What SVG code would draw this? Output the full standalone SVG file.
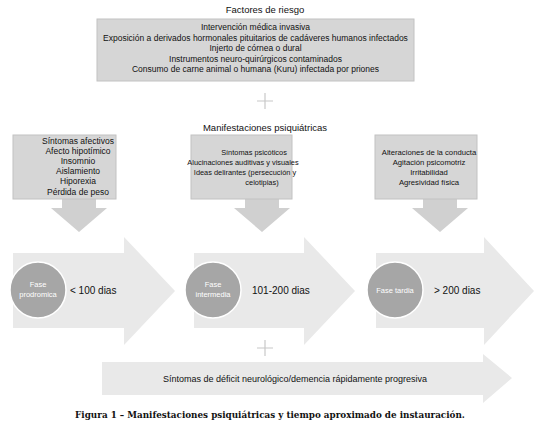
<svg xmlns="http://www.w3.org/2000/svg" width="539" height="425" viewBox="0 0 539 425">
<style>
.t{font-family:"Liberation Sans",Arial,sans-serif;font-size:8.5px;fill:#111;text-anchor:middle}
.m{font-size:7.4px}
.r{font-size:7.7px}
.box{fill:#d6d6d6;stroke:#c2c2c2;stroke-width:1}
.down{fill:#d0d0d0}
.big{fill:#e9e9e9}
.circ{fill:#a6a6a6;stroke:#fff;stroke-width:1.5}
.ct{font-family:"Liberation Sans",Arial,sans-serif;font-size:7.5px;fill:#fff;text-anchor:middle}
.lbl{font-family:"Liberation Sans",Arial,sans-serif;font-size:10px;fill:#111}
.plus{stroke:#c8c8c8;stroke-width:1.2;fill:none}
.cap{font-family:"DejaVu Serif","Liberation Serif",serif;font-size:8.8px;font-weight:bold;fill:#111;text-anchor:middle}
</style>
<rect width="539" height="425" fill="#fff"/>
<g id="connectors">
<path class="plus" d="M257 101H273M265 93V109"/>
<path class="plus" d="M257 348H273M265 340V356"/>
<polygon class="down" points="62,198 96,198 96,208 107,208 79,232 51,208 62,208"/>
<polygon class="down" points="245,198 279,198 279,208 290,208 262,232 234,208 245,208"/>
<polygon class="down" points="423,198 457,198 457,208 468,208 440,232 412,208 423,208"/>
</g>
<g id="title-riesgo"><text class="t" x="265" y="13" style="font-size:9.5px">Factores de riesgo</text></g>
<g id="factores">
<rect class="box" x="97" y="19" width="317" height="62"/>
<text class="t" x="255.5" y="30">Intervención médica invasiva</text>
<text class="t" x="255.5" y="40.5">Exposición a derivados hormonales pituitarios de cadáveres humanos infectados</text>
<text class="t" x="255.5" y="51">Injerto de córnea o dural</text>
<text class="t" x="255.5" y="61.5">Instrumentos neuro-quirúrgicos contaminados</text>
<text class="t" x="255.5" y="72">Consumo de carne animal o humana (Kuru) infectada por priones</text>
</g>
<g id="title-manif"><text class="t" x="265" y="131" style="font-size:9.5px">Manifestaciones psiquiátricas</text></g>
<g id="afectivos">
<rect class="box" x="13" y="135" width="103" height="64"/>
<text class="t" x="78" y="144">Síntomas afectivos</text>
<text class="t" x="78" y="154">Afecto hipotímico</text>
<text class="t" x="78" y="164">Insomnio</text>
<text class="t" x="78" y="174">Aislamiento</text>
<text class="t" x="78" y="184">Hiporexia</text>
<text class="t" x="78" y="194.5">Pérdida de peso</text>
</g>
<g id="psicoticos">
<rect class="box" x="191" y="135" width="101" height="64"/>
<text class="t m" x="254" y="155">Síntomas psicóticos</text>
<text class="t m" x="243" y="165">Alucinaciones auditivas y visuales</text>
<text class="t m" x="245" y="175">Ideas delirantes (persecución y</text>
<text class="t m" x="262" y="185">celotipias)</text>
</g>
<g id="conducta">
<rect class="box" x="375" y="135" width="102" height="64"/>
<text class="t r" x="429" y="155">Alteraciones de la conducta</text>
<text class="t r" x="429" y="165">Agitación psicomotriz</text>
<text class="t r" x="429" y="175">Irritabilidad</text>
<text class="t r" x="429" y="185">Agresividad física</text>
</g>
<g id="fase-prodromica">
<polygon class="big" points="13,253 124,253 124,237 175,291 124,345 124,328 13,328"/>
<circle class="circ" cx="38" cy="290" r="28"/>
<text class="ct" x="38" y="287">Fase</text>
<text class="ct" x="38" y="297">prodromica</text>
<text class="lbl" x="70" y="294">&lt; 100 dias</text>
</g>
<g id="fase-intermedia">
<polygon class="big" points="194,253 304,253 304,237 355,291 304,345 304,328 194,328"/>
<circle class="circ" cx="213" cy="290" r="28"/>
<text class="ct" x="213" y="287">Fase</text>
<text class="ct" x="213" y="297">intermedia</text>
<text class="lbl" x="252" y="294">101-200 dias</text>
</g>
<g id="fase-tardia">
<polygon class="big" points="376,253 484,253 484,237 534,291 484,345 484,328 376,328"/>
<circle class="circ" cx="395" cy="290" r="28"/>
<text class="ct" x="395" y="293">Fase tardia</text>
<text class="lbl" x="434" y="294">&gt; 200 dias</text>
</g>
<g id="deficit">
<polygon class="big" points="102,362 483,362 483,354 512,378 483,403 483,395 102,395"/>
<text class="t" x="295" y="382" style="font-size:9px">Síntomas de déficit neurológico/demencia rápidamente progresiva</text>
</g>
<g id="caption"><text class="cap" x="270" y="418">Figura 1 – Manifestaciones psiquiátricas y tiempo aproximado de instauración.</text></g>
</svg>
